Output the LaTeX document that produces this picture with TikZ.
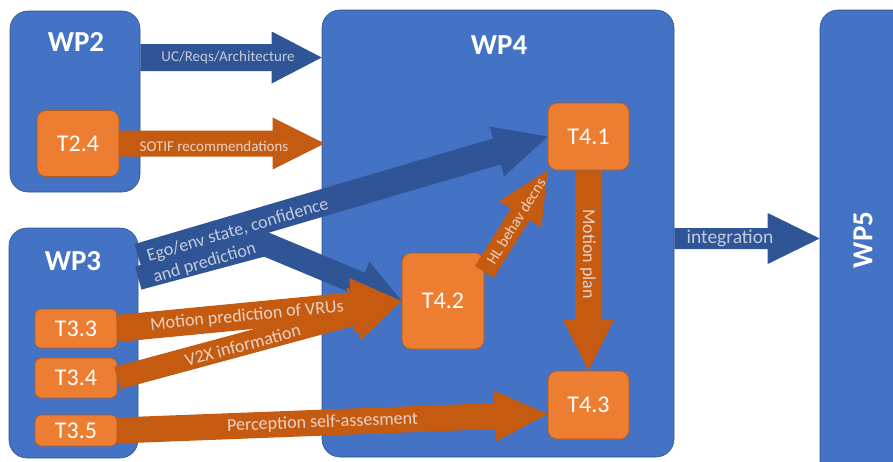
\documentclass[tikz,border=0pt]{standalone}
\usepackage{fontspec}
\setmainfont{Carlito}
\usetikzlibrary{calc}

\definecolor{wpblue}{HTML}{4472C4}
\definecolor{wpedge}{HTML}{2F528F}
\definecolor{flowblue}{HTML}{2F5597}
\definecolor{taskorange}{HTML}{ED7D31}
\definecolor{taskedge}{HTML}{AE5A21}
\definecolor{floworange}{HTML}{C55A11}
\definecolor{bluelabel}{HTML}{C3CBDB}
\definecolor{orangelabel}{HTML}{EBD3C6}

% Block arrow: #1 fill, #2 start, #3 tip, #4 shaft half width, #5 head half width, #6 head length
\newcommand{\blockarrow}[6]{%
  \coordinate (ba-hb) at ($(#3)!#6!(#2)$);
  \fill[#1] ($(#2)!#4!90:(#3)$) -- ($(ba-hb)!#4!90:(#3)$) -- ($(ba-hb)!#5!90:(#3)$)
    -- (#3) -- ($(ba-hb)!#5!-90:(#3)$) -- ($(ba-hb)!#4!-90:(#3)$) -- ($(#2)!#4!-90:(#3)$) -- cycle;}

\tikzset{
  wpbox/.style={draw=wpedge, line width=0.6pt, fill=wpblue, rounded corners=18pt, inner sep=0pt},
  taskbox/.style={draw=taskedge, line width=0.6pt, fill=taskorange, rounded corners=9pt,
    inner sep=0pt, text=white, font=\fontsize{24}{28}\selectfont},
  smalltask/.style={rounded corners=6pt},
  wptitle/.style={text=white, font=\bfseries\fontsize{29}{33}\selectfont, inner sep=0pt},
  bluesmall/.style={text=bluelabel, font=\fontsize{15}{18}\selectfont, inner sep=0pt},
  bluebig/.style={text=bluelabel, font=\fontsize{18}{22}\selectfont, inner sep=0pt},
  orangesmall/.style={text=orangelabel, font=\fontsize{15}{18}\selectfont, inner sep=0pt},
  orangebig/.style={text=orangelabel, font=\fontsize{18}{22}\selectfont, inner sep=0pt},
}

\begin{document}
\begin{tikzpicture}[x=1pt, y=-1pt]
\useasboundingbox (0,0) rectangle (893,461);
\clip (0,0) rectangle (893,461);

% work packages
\node[wpbox, minimum width=130pt, minimum height=181pt] (wp2) at (75,101.5) {};
\node[wpbox, minimum width=129pt, minimum height=230pt] (wp3) at (73.5,343) {};
\node[wpbox, minimum width=352pt, minimum height=447pt] (wp4) at (498,233.5) {};
\node[wpbox, minimum width=110pt, minimum height=470pt] (wp5) at (875,245) {};

\node[wptitle] (wp2t) at (76,42) {WP2};
\node[wptitle] (wp3t) at (73,261) {WP3};
\node[wptitle] (wp4t) at (499,45) {WP4};
\node[wptitle, rotate=90] (wp5t) at (863,240) {WP5};

% tasks
\node[taskbox, minimum width=82pt, minimum height=66pt] (t24) at (78,143.5) {T2.4};
\node[taskbox, smalltask, minimum width=82pt, minimum height=39pt] (t33) at (76,328.5) {T3.3};
\node[taskbox, smalltask, minimum width=82pt, minimum height=40pt] (t34) at (76,378) {T3.4};
\node[taskbox, smalltask, minimum width=82pt, minimum height=31pt] (t35) at (76,430.5) {T3.5};
\node[taskbox, minimum width=81pt, minimum height=67pt] (t41) at (588.5,136.5) {T4.1};
\node[taskbox, minimum width=82pt, minimum height=96pt] (t42) at (443,301) {T4.2};
\node[taskbox, minimum width=81pt, minimum height=68pt] (t43) at (588.5,405) {T4.3};

% arrow end points
\coordinate (ucS) at (wp2.east |- 0,57.5);
\coordinate (ucT) at (wp4.west |- 0,57.5);
\coordinate (sotT) at ($(wp4.west |- t24.east)+(3,0)$);
\coordinate (intS) at (wp4.east |- 0,238.5);
\coordinate (intT) at (wp5.west |- 0,238.5);
\coordinate (egoS) at (wp3.east |- 0,257);
\coordinate (brS) at (wp3.east |- 0,278);
\coordinate (brB) at (265,244);
\coordinate (perT) at ($(t43.west)+(0,9)$);
\coordinate (hlS) at ($(t42.north east)!0.2!(t42.south east)$);

% blue flows
\blockarrow{flowblue}{ucS}{ucT}{13.5pt}{26pt}{50pt}
\blockarrow{flowblue}{intS}{intT}{10.5pt}{25.5pt}{52pt}
\blockarrow{flowblue}{egoS}{t41.west}{13.5pt}{26pt}{53pt}
\coordinate (brH) at ($(t42.west)!45pt!(brB)$);
\draw[flowblue, line width=24pt, line join=miter] (brS) -- (brB) -- (brH);
\fill[flowblue] ($(brH)!24pt!90:(t42.west)$) -- (t42.west) -- ($(brH)!24pt!-90:(t42.west)$) -- cycle;

% orange flows
\blockarrow{floworange}{t24.east}{sotT}{13pt}{26pt}{52pt}
\blockarrow{floworange}{t33.east}{t42.west}{13.5pt}{28pt}{50pt}
\blockarrow{floworange}{t34.east}{t42.west}{11.5pt}{27pt}{50pt}
\blockarrow{floworange}{t35.east}{perT}{13pt}{25.5pt}{53pt}
\blockarrow{floworange}{hlS}{t41.south west}{11pt}{25pt}{52pt}
\blockarrow{floworange}{t41.south}{t43.north}{13.5pt}{25.5pt}{51pt}

% flow labels
\node[bluesmall] (ucL) at (228,57) {UC/Reqs/Architecture};
\node[orangesmall] (sotL) at (214,146) {SOTIF recommendations};
\node[bluebig, font=\fontsize{19.5}{22}\selectfont] (intL) at (730,238.5) {integration};
\node[bluebig, rotate=16.4, align=left] (egoL) at (241,241) {Ego/env state, confidence\\and prediction};
\path (t33.east) -- (t42.west) node[orangebig, sloped, pos=0.456] (motL) {Motion prediction of VRUs};
\path (t34.east) -- (t42.west) node[orangebig, sloped, pos=0.44, yshift=-1pt] (v2xL) {V2X information};
\path (t35.east) -- (perT) node[orangebig, sloped, pos=0.477] (perL) {Perception self-assesment};
\path (hlS) -- (t41.south west) node[orangesmall, font=\fontsize{15.5}{18}\selectfont, sloped, pos=0.5] (hlL) {HL behav decns};
\node[orangebig, rotate=-90] (planL) at (588,254) {Motion plan};
\end{tikzpicture}
\end{document}
